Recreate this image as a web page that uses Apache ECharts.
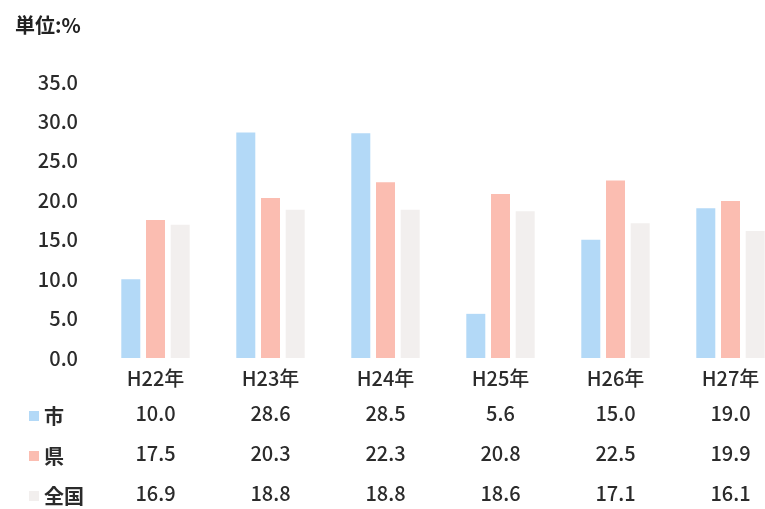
<!DOCTYPE html>
<html>
<head>
<meta charset="utf-8">
<script src="https://cdn.jsdelivr.net/npm/echarts@6/dist/echarts.min.js"></script>
<style>
  html, body { margin: 0; padding: 0; background: #fff; }
  #chart { width: 765px; height: 509px; }
</style>
</head>
<body>
<div id="chart"></div>
<script>
// Years and rates (%) for city, prefecture and national average
const years = ['H22年', 'H23年', 'H24年', 'H25年', 'H26年', 'H27年'];
const seriesNames = ['市', '県', '全国'];
const cityValues = [10.0, 28.6, 28.5, 5.6, 15.0, 19.0];
const prefValues = [17.5, 20.3, 22.3, 20.8, 22.5, 19.9];
const nationValues = [16.9, 18.8, 18.8, 18.6, 17.1, 16.1];
const unitLabel = '単位:%';

const FONT = '"Noto Sans CJK JP", "Noto Sans", sans-serif';
const TEXT = '#2b2b2b';
const colors = ['#b3d9f7', '#fbbdb1', '#f2efee'];
const LABEL = { color: TEXT, fontFamily: FONT, fontSize: 20, fontWeight: 500 };

const fmt = v => v.toFixed(1);

// Value rows of the data table, drawn as extra category axes under the chart
const tableRows = [cityValues, prefValues, nationValues];
const tableOffsets = [35, 75, 115];
const legendTops = [400, 440, 480];

const xAxes = [{
  type: 'category',
  data: years,
  axisLine: { show: false },
  axisTick: { show: false },
  axisLabel: Object.assign({ margin: 10 }, LABEL)
}].concat(tableRows.map((row, i) => ({
  type: 'category',
  position: 'bottom',
  offset: tableOffsets[i],
  data: row.map(fmt),
  axisLine: { show: false },
  axisTick: { show: false },
  axisLabel: Object.assign({ margin: 10 }, LABEL)
})));

// One legend per table row so each marker sits beside its values
const legends = seriesNames.map((name, i) => ({
  orient: 'vertical',
  left: 24,
  top: legendTops[i],
  itemWidth: 10,
  itemHeight: 10,
  itemGap: 10,
  icon: 'rect',
  data: [name],
  textStyle: { color: TEXT, fontFamily: FONT, fontSize: 20, fontWeight: 'bold', lineHeight: 22 }
}));

const chart = echarts.init(document.getElementById('chart'));
chart.setOption({
  animation: false,
  backgroundColor: '#fff',
  title: {
    text: unitLabel,
    left: 10,
    top: 10,
    textStyle: { color: '#222', fontFamily: FONT, fontSize: 20, fontWeight: 'bold' }
  },
  legend: legends,
  grid: {
    left: 98,
    top: 82,
    width: 690,
    height: 276,
    containLabel: false,
    outerBoundsMode: 'none'
  },
  xAxis: xAxes,
  yAxis: {
    type: 'value',
    min: 0,
    max: 35,
    interval: 5,
    axisLine: { show: false },
    axisTick: { show: false },
    splitLine: { show: false },
    axisLabel: Object.assign({ margin: 20, formatter: v => fmt(v) }, LABEL)
  },
  series: [cityValues, prefValues, nationValues].map((vals, i) => ({
    name: seriesNames[i],
    type: 'bar',
    xAxisIndex: 0,
    data: vals,
    barWidth: 19,
    barGap: '30%',
    itemStyle: { color: colors[i] }
  }))
});
</script>
</body>
</html>
